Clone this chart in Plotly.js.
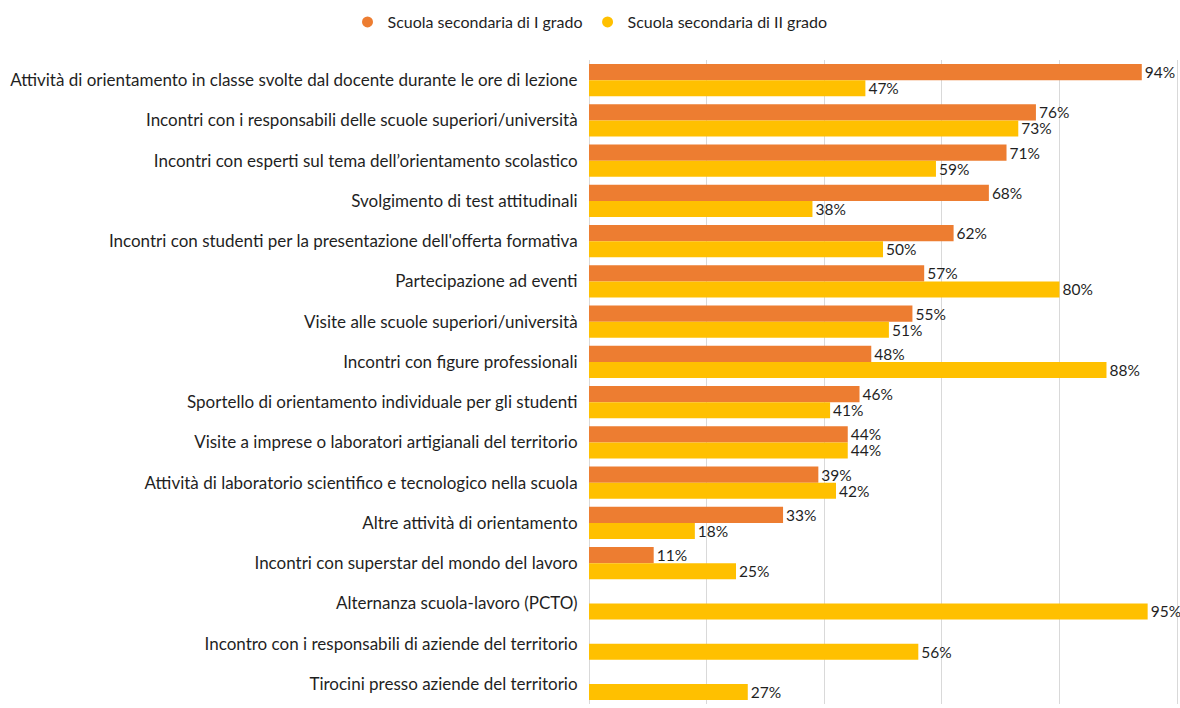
<!DOCTYPE html>
<html>
<head>
<meta charset="utf-8">
<script src="https://cdn.plot.ly/plotly-3.0.1.min.js"></script>
<style>html,body{margin:0;padding:0;background:#fff;}#chart{width:1180px;height:708px;}</style>
</head>
<body>
<div id="chart"></div>
<script>
const categories = [
  "Attività di orientamento in classe svolte dal docente durante le ore di lezione",
  "Incontri con i responsabili delle scuole superiori/università",
  "Incontri con esperti sul tema dell’orientamento scolastico",
  "Svolgimento di test attitudinali",
  "Incontri con studenti per la presentazione dell'offerta formativa",
  "Partecipazione ad eventi",
  "Visite alle scuole superiori/università",
  "Incontri con figure professionali",
  "Sportello di orientamento individuale per gli studenti",
  "Visite a imprese o laboratori artigianali del territorio",
  "Attività di laboratorio scientifico e tecnologico nella scuola",
  "Altre attività di orientamento",
  "Incontri con superstar del mondo del lavoro",
  "Alternanza scuola-lavoro (PCTO)",
  "Incontro con i responsabili di aziende del territorio",
  "Tirocini presso aziende del territorio"
];
const seriesNames = ["Scuola secondaria di I grado", "Scuola secondaria di II grado"];
const primoGrado = [94, 76, 71, 68, 62, 57, 55, 48, 46, 44, 39, 33, 11, null, null, null];
const secondoGrado = [47, 73, 59, 38, 50, 80, 51, 88, 41, 44, 42, 18, 25, 95, 56, 27];
const colors = ["#ED7D31", "#FFC000"];

const FONT = "Lato, 'Open Sans', sans-serif";
const TXT = "#1f1f1f";

function barTrace(vals, i) {
  return {
    type: "bar", orientation: "h",
    y: categories, x: vals,
    name: seriesNames[i],
    marker: {color: colors[i]},
    text: vals.map(v => v == null ? "" : v + "%"),
    textposition: "outside",
    constraintext: "none",
    cliponaxis: false,
    textfont: {family: FONT, size: 15.5, color: TXT},
    showlegend: false,
    hoverinfo: "skip"
  };
}
function legendTrace(i) {
  return {
    type: "scatter", mode: "markers",
    x: [null], y: [categories[0]],
    name: seriesNames[i],
    marker: {color: colors[i], size: 11, symbol: "circle"},
    showlegend: true
  };
}

const data = [barTrace(primoGrado, 0), barTrace(secondoGrado, 1), legendTrace(0), legendTrace(1)];

const layout = {
  width: 1180, height: 708,
  margin: {l: 589, r: 0, t: 60, b: 4},
  paper_bgcolor: "#fff", plot_bgcolor: "#fff",
  font: {family: FONT, size: 16, color: TXT},
  barmode: "group",
  bargap: 0.2, bargroupgap: 0,
  showlegend: true,
  legend: {
    orientation: "h", xref: "container", yref: "container",
    x: 0.5, xanchor: "center", y: 1 - 22/708, yanchor: "middle",
    font: {family: FONT, size: 16, color: TXT},
    itemwidth: 30, traceorder: "normal"
  },
  xaxis: {
    range: [0, 100.5], dtick: 20, tick0: 0,
    showgrid: true, gridcolor: "#D9D9D9", gridwidth: 1,
    zeroline: true, zerolinecolor: "#D9D9D9", zerolinewidth: 1,
    showticklabels: false, ticks: "", fixedrange: true
  },
  yaxis: {
    type: "category",
    range: [15.5, -0.5],
    showgrid: false, zeroline: false, showline: false,
    ticks: "outside", ticklen: 7, tickcolor: "rgba(0,0,0,0)",
    tickfont: {family: FONT, size: 17, color: TXT},
    automargin: false
  }
};

Plotly.newPlot("chart", data, layout, {displayModeBar: false, staticPlot: true});
</script>
</body>
</html>
